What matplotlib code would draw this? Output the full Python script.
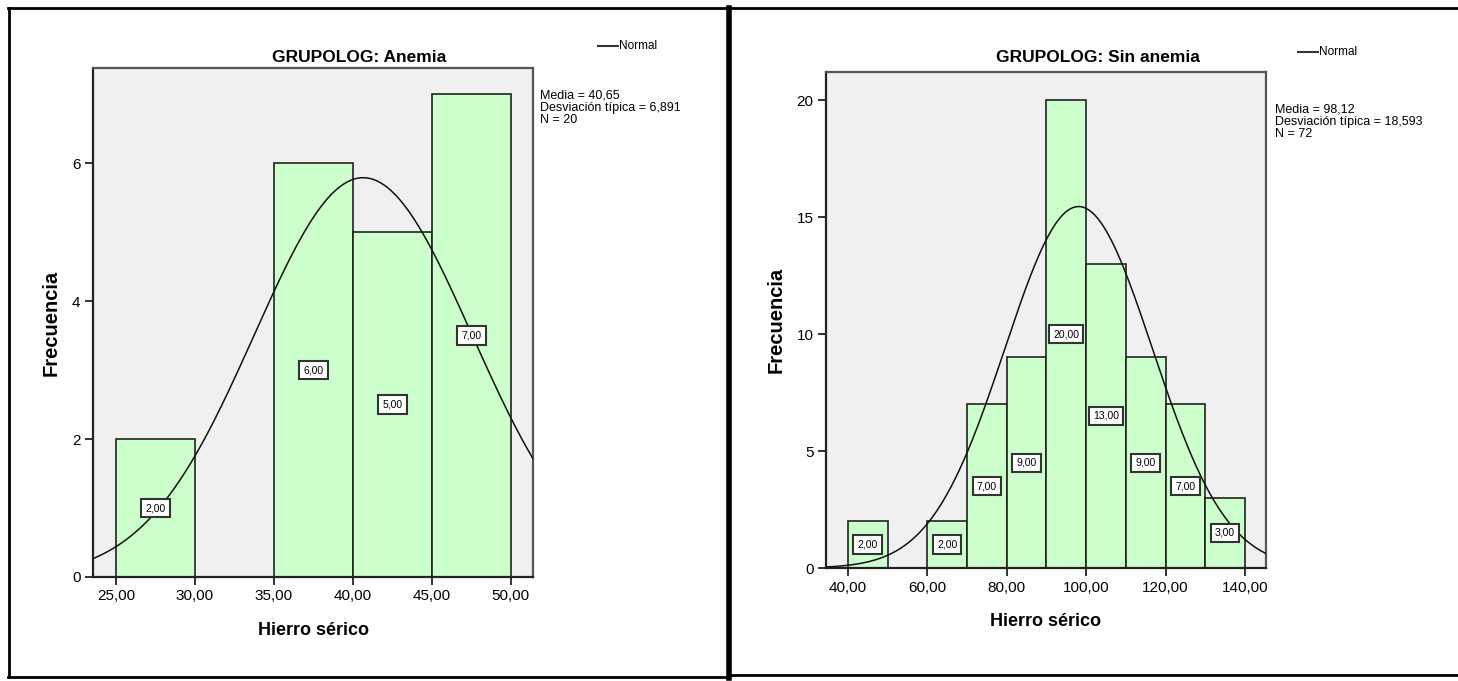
import numpy as np
import matplotlib
matplotlib.use("Agg")
import matplotlib.pyplot as plt
from matplotlib.lines import Line2D

# Hierro sérico histograms by GRUPOLOG
anemia_edges = [25, 30, 35, 40, 45, 50]
anemia_counts = [2, 0, 6, 5, 7]
anemia_mean = 40.65
anemia_sd = 6.891
anemia_n = 20

sin_edges = [40, 50, 60, 70, 80, 90, 100, 110, 120, 130, 140]
sin_counts = [2, 0, 2, 7, 9, 20, 13, 9, 7, 3]
sin_mean = 98.12
sin_sd = 18.593
sin_n = 72

anemia_xticks = [25, 30, 35, 40, 45, 50]
anemia_yticks = [0, 2, 4, 6]
sin_xticks = [40, 60, 80, 100, 120, 140]
sin_yticks = [0, 5, 10, 15, 20]

W, H = 1458, 681
FONT = ["Liberation Sans", "DejaVu Sans"]
plt.rcParams["font.family"] = FONT

fig = plt.figure(figsize=(W / 100, H / 100), dpi=100)
fig.patch.set_facecolor("white")


def fx(x):
    return x / W


def fy(y):
    return 1 - y / H


def comma(v, nd=2):
    return f"{v:.{nd}f}".replace(".", ",")


def panel(box, edges, counts, mean, sd, n, xlim, ylim, xticks, yticks,
          title, title_xy, legend_xy, stats_xy):
    l, t, r, b = box
    ax = fig.add_axes([fx(l), fy(b), (r - l) / W, (b - t) / H])
    ax.set_facecolor("#f0f0f0")
    edges = np.array(edges, dtype=float)
    counts = np.array(counts, dtype=float)
    width = np.diff(edges)
    mids = edges[:-1] + width / 2
    for x0, w, c in zip(edges[:-1], width, counts):
        if c > 0:
            ax.bar(x0, c, width=w, align="edge", color="#ccffcc",
                   edgecolor="#222222", linewidth=1.2, zorder=2)
    for m, c in zip(mids, counts):
        if c > 0:
            ax.text(m, c / 2, comma(c), ha="center", va="center",
                    fontsize=7.5, zorder=5,
                    bbox=dict(boxstyle="square,pad=0.4", fc="white",
                              ec="#333333", lw=1.5))
    # fitted normal curve scaled to counts
    xs = np.linspace(xlim[0], xlim[1], 400)
    bw = width[0]
    ys = n * bw / (sd * np.sqrt(2 * np.pi)) * np.exp(-0.5 * ((xs - mean) / sd) ** 2)
    ax.plot(xs, ys, color="#111111", lw=1.1, zorder=4)

    ax.set_xlim(*xlim)
    ax.set_ylim(*ylim)
    ax.set_xticks(xticks)
    ax.set_xticklabels([comma(v) for v in xticks], fontsize=11)
    ax.set_yticks(yticks)
    ax.set_yticklabels([str(v) for v in yticks], fontsize=11)
    ax.tick_params(direction="out", length=6, width=1.3, color="#222222", pad=3)
    for s in ax.spines.values():
        s.set_color("#555555")
        s.set_linewidth(1.6)
    ax.spines["left"].set_color("#222222")
    ax.spines["bottom"].set_color("#222222")
    ax.set_xlabel("Hierro sérico", fontsize=13, fontweight="bold", labelpad=13)
    ax.set_ylabel("Frecuencia", fontsize=14.5, fontweight="bold", labelpad=8)

    fig.text(fx(title_xy[0]), fy(title_xy[1]), title,
             fontsize=12.5, fontweight="bold", ha="center", va="center")
    lx, ly = legend_xy
    fig.add_artist(Line2D([fx(lx), fx(lx + 20)], [fy(ly), fy(ly)],
                          color="#333333", lw=1.5))
    fig.text(fx(lx + 21), fy(ly), "Normal", fontsize=8.5,
             ha="left", va="center")
    stats = (f"Media = {comma(mean)}\n"
             f"Desviación típica = {comma(sd, 3)}\n"
             f"N = {n}")
    fig.text(fx(stats_xy[0]), fy(stats_xy[1]), stats,
             fontsize=9, ha="left", va="top", linespacing=1.0)
    return ax


panel((93, 68, 533, 577), anemia_edges, anemia_counts, anemia_mean,
      anemia_sd, anemia_n, (23.55, 51.4), (0, 7.38), anemia_xticks,
      anemia_yticks, "GRUPOLOG: Anemia", (359, 58), (598, 46), (540, 90))

panel((826, 72, 1266, 568), sin_edges, sin_counts, sin_mean,
      sin_sd, sin_n, (34.5, 145.3), (0, 21.2), sin_xticks,
      sin_yticks, "GRUPOLOG: Sin anemia", (1098, 58), (1298, 52), (1275, 104))

# panel frames
frame = dict(color="black", lw=2)
fig.add_artist(Line2D([fx(8), fx(1458)], [fy(8), fy(8)], **frame))
fig.add_artist(Line2D([fx(9), fx(9)], [fy(8), fy(677)], **frame))
fig.add_artist(Line2D([fx(8), fx(729)], [fy(677), fy(677)], **frame))
fig.add_artist(Line2D([fx(729), fx(1458)], [fy(675), fy(675)], **frame))
fig.add_artist(Line2D([fx(729), fx(729)], [fy(8), fy(678)], color="black", lw=4))

fig.savefig("out.png", dpi=100)
